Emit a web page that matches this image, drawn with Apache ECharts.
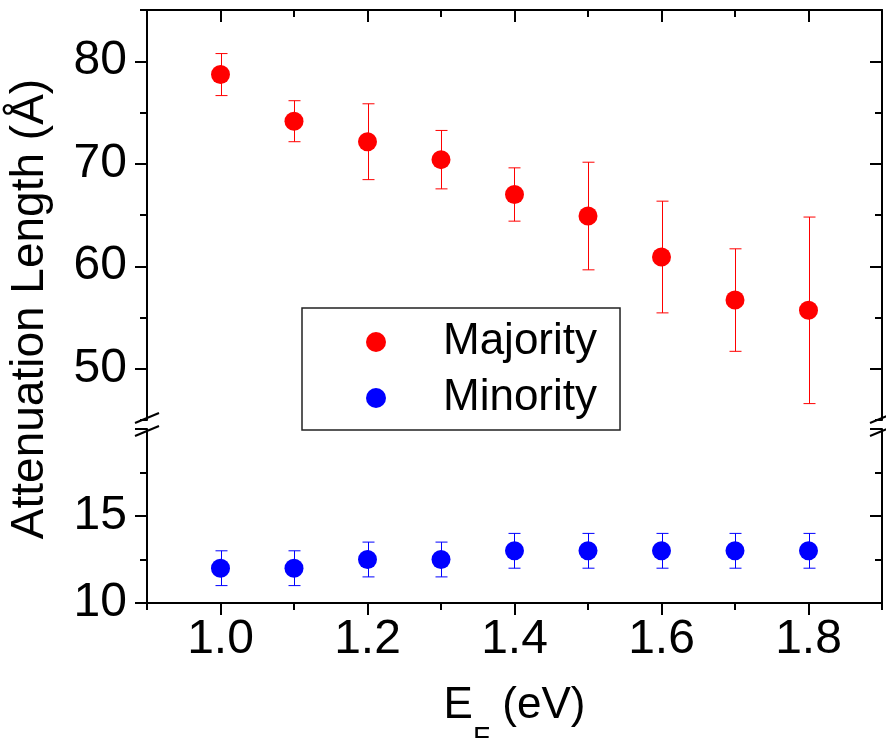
<!DOCTYPE html>
<html>
<head>
<meta charset="utf-8">
<title>Attenuation Length</title>
<script src="https://cdn.jsdelivr.net/npm/echarts@6/dist/echarts.min.js"></script>
<style>
	html, body { margin: 0; padding: 0; background: #fff; }
	#main { width: 886px; height: 738px; }
</style>
</head>
<body>
<div id="main"></div>
<script>
var energies = [1.0, 1.1, 1.2, 1.3, 1.4, 1.5, 1.6, 1.7, 1.8];
var majorityValues = [78.7, 74.15, 72.15, 70.4, 67.0, 64.9, 60.9, 56.7, 55.7];
var majorityErrors = [2.05, 2.0, 3.7, 2.85, 2.6, 5.25, 5.45, 5.0, 9.1];
var minorityValues = [12.0, 12.0, 12.5, 12.5, 13.0, 13.0, 13.0, 13.0, 13.0];
var minorityErrors = [1.0, 1.0, 1.0, 1.0, 1.0, 1.0, 1.0, 1.0, 1.0];
var upperTickLabels = [50, 60, 70, 80];
var lowerTickLabels = [10, 15];
var xTickLabels = ['1.0', '1.2', '1.4', '1.6', '1.8'];

var FONT = "'Liberation Sans', Arial, sans-serif";
var INK = '#000';

// plot frame (px)
var L = 147, R = 882, TOP = 10, UP_BOT = 420, LOW_TOP = 429, BOT = 603;

function points(values) {
	return energies.map(function (x, i) { return [x, values[i]]; });
}
function bars(values, errors) {
	return energies.map(function (x, i) { return [x, values[i] - errors[i], values[i] + errors[i]]; });
}

function errorBar(color) {
	return function (params, api) {
		var x = api.value(0);
		var lo = api.coord([x, api.value(1)]);
		var hi = api.coord([x, api.value(2)]);
		var cx = Math.round(lo[0]) + 0.5, w = 6;
		var st = { stroke: color, lineWidth: 1 };
		return {
			type: 'group',
			children: [
				{ type: 'line', shape: { x1: cx, y1: hi[1], x2: cx, y2: lo[1] }, style: st },
				{ type: 'line', shape: { x1: cx - w, y1: hi[1], x2: cx + w, y2: hi[1] }, style: st },
				{ type: 'line', shape: { x1: cx - w, y1: lo[1], x2: cx + w, y2: lo[1] }, style: st }
			]
		};
	};
}

function inList(list) {
	return function (v) {
		for (var i = 0; i < list.length; i++) {
			if (Math.abs(Number(list[i]) - v) < 1e-6) return String(list[i]);
		}
		return '';
	};
}

var lineSt = { color: INK, width: 2 };
var labelSt = { color: INK, fontSize: 48, fontFamily: FONT };

// axis that carries only ticks; major ticks start at min (so the "minor" ones are the long ones)
function tickAxis(base) {
	return Object.assign({
		axisLine: { show: false, lineStyle: lineSt },
		axisLabel: { show: false },
		splitLine: { show: false },
		axisTick: { show: true, length: 7, lineStyle: lineSt },
		minorTick: { show: true, splitNumber: 2, length: 12, lineStyle: lineSt }
	}, base);
}

var breakLines = [];
[L, R].forEach(function (x) {
	[UP_BOT - 2, LOW_TOP + 2].forEach(function (y) {
		breakLines.push({
			type: 'line',
			shape: { x1: x - 12, y1: y + 5, x2: x + 12, y2: y - 5 },
			style: { stroke: INK, lineWidth: 2 },
			z: 100
		});
	});
});

var chart = echarts.init(document.getElementById('main'), null, { renderer: 'canvas' });

var option = {
	animation: false,
	backgroundColor: '#fff',
	grid: [
		{ left: L, top: TOP, width: R - L, height: UP_BOT - TOP, outerBoundsMode: 'none', containLabel: false },
		{ left: L, top: LOW_TOP, width: R - L, height: BOT - LOW_TOP, outerBoundsMode: 'none', containLabel: false }
	],
	xAxis: [
		// upper panel: top frame
		tickAxis({ gridIndex: 0, type: 'value', position: 'top', min: 0.9, max: 1.9, interval: 0.2,
			axisLine: { show: true, onZero: false, lineStyle: lineSt },
			axisTick: { show: true, inside: true, length: 7, lineStyle: lineSt } }),
		// lower panel: bottom frame ticks
		tickAxis({ gridIndex: 1, type: 'value', position: 'bottom', min: 0.9, max: 1.9, interval: 0.2,
			axisLine: { show: true, onZero: false, lineStyle: lineSt } }),
		// lower panel: labels + title
		{
			gridIndex: 1, type: 'value', position: 'bottom', min: 0.9, max: 1.9, interval: 0.1,
			axisLine: { show: false }, axisTick: { show: false }, splitLine: { show: false },
			axisLabel: Object.assign({ margin: 13, showMinLabel: false, showMaxLabel: false,
				formatter: function (v) { return inList(xTickLabels)(v); } }, labelSt),
			name: '{e|E}{s|F}{e| (eV)}',
			nameLocation: 'middle',
			nameGap: 81,
			nameTextStyle: {
				rich: {
					e: { fontSize: 44, lineHeight: 44, fontFamily: FONT, color: INK, verticalAlign: 'top' },
					s: { fontSize: 28, lineHeight: 28, fontFamily: FONT, color: INK, verticalAlign: 'top', padding: [40, 0, 0, 0] }
				}
			}
		}
	],
	yAxis: [
		// 0: upper left, labels + line
		{
			gridIndex: 0, type: 'value', position: 'left', min: 45, max: 85, interval: 5,
			axisLine: { show: true, onZero: false, lineStyle: lineSt },
			axisTick: { show: false }, splitLine: { show: false },
			axisLabel: Object.assign({ margin: 20, formatter: inList(upperTickLabels) }, labelSt)
		},
		// 1: upper left ticks
		tickAxis({ gridIndex: 0, type: 'value', position: 'left', min: 45, max: 85, interval: 10 }),
		// 2: upper right frame
		tickAxis({ gridIndex: 0, type: 'value', position: 'right', min: 45, max: 85, interval: 10,
			axisLine: { show: true, onZero: false, lineStyle: lineSt },
			axisTick: { show: true, inside: true, length: 7, lineStyle: lineSt } }),
		// 3: lower left
		{
			gridIndex: 1, type: 'value', position: 'left', min: 10, max: 20, interval: 5,
			axisLine: { show: true, onZero: false, lineStyle: lineSt },
			splitLine: { show: false },
			axisTick: { show: true, length: 12, lineStyle: lineSt },
			minorTick: { show: true, splitNumber: 2, length: 7, lineStyle: lineSt },
			axisLabel: Object.assign({ margin: 20, formatter: inList(lowerTickLabels) }, labelSt)
		},
		// 4: lower right
		{
			gridIndex: 1, type: 'value', position: 'right', min: 10, max: 20, interval: 5,
			axisLine: { show: true, onZero: false, lineStyle: lineSt },
			splitLine: { show: false },
			axisTick: { show: true, inside: true, length: 12, lineStyle: lineSt },
			minorTick: { show: true, splitNumber: 2, length: 7, lineStyle: lineSt },
			axisLabel: { show: false }
		}
	],
	legend: {
		data: ['Majority', 'Minority'],
		orient: 'vertical',
		left: 302,
		top: 308,
		padding: [11, 23, 9, 64],
		itemGap: 10,
		itemWidth: 124,
		itemHeight: 20,
		icon: 'circle',
		borderColor: '#222',
		borderWidth: 1.5,
		borderRadius: 0,
		backgroundColor: '#fff',
		textStyle: { fontSize: 44, lineHeight: 46, fontFamily: FONT, color: INK },
		selectedMode: false
	},
	graphic: breakLines.concat([
		{
			type: 'text',
			x: 30,
			y: 309,
			rotation: Math.PI / 2,
			style: {
				text: 'Attenuation Length (Å)',
				fontSize: 46,
				fontFamily: FONT,
				fill: INK,
				align: 'center',
				verticalAlign: 'middle'
			}
		}
	]),
	series: [
		{
			name: 'Majority err', type: 'custom', xAxisIndex: 0, yAxisIndex: 0,
			renderItem: errorBar('#ff0000'), encode: { x: 0, y: [1, 2] },
			data: bars(majorityValues, majorityErrors), z: 2
		},
		{
			name: 'Majority', type: 'scatter', xAxisIndex: 0, yAxisIndex: 0,
			symbol: 'circle', symbolSize: 19, itemStyle: { color: '#ff0000', opacity: 1 },
			data: points(majorityValues), z: 3
		},
		{
			name: 'Minority err', type: 'custom', xAxisIndex: 1, yAxisIndex: 3,
			renderItem: errorBar('#0000ff'), encode: { x: 0, y: [1, 2] },
			data: bars(minorityValues, minorityErrors), z: 2
		},
		{
			name: 'Minority', type: 'scatter', xAxisIndex: 1, yAxisIndex: 3,
			symbol: 'circle', symbolSize: 19, itemStyle: { color: '#0000ff', opacity: 1 },
			data: points(minorityValues), z: 3
		}
	]
};

chart.setOption(option);
</script>
</body>
</html>
